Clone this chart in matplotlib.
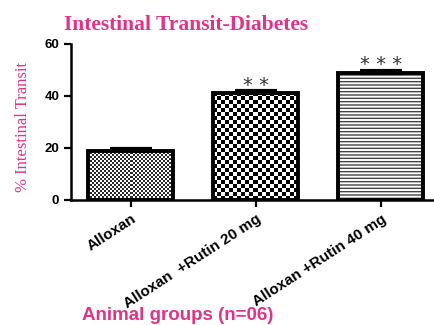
import numpy as np
import matplotlib.pyplot as plt
from matplotlib.colors import ListedColormap
from matplotlib.transforms import ScaledTranslation

# Intestinal transit (%) in alloxan diabetic animals, mean and SEM
groups = ['Alloxan', 'Alloxan  +Rutin 20 mg', 'Alloxan +Rutin 40 mg']
transit = [19.0, 41.2, 48.9]
sem = [0.7, 0.7, 0.8]
signif = ['', '* *', '* * *']
yticks = [0, 20, 40, 60]

pink = '#E2338A'
plt.rcParams['hatch.linewidth'] = 1.0

fig = plt.figure(figsize=(4.35, 3.25), dpi=100)
ax = fig.add_axes([71 / 435, 1 - 200 / 325, 362 / 435, 156 / 325])

x = np.arange(len(groups))
width = 0.68
bars = ax.bar(x, transit, width=width, facecolor='none', edgecolor='black',
              linewidth=2.8, zorder=3)
ax.set_xlim(-0.48, 2.416)
ax.set_ylim(0, 60)


def checker_fill(bar, cell_px, dark):
    # checkerboard texture clipped to the bar outline
    x0, y0 = bar.get_x(), bar.get_y()
    w, h = bar.get_width(), bar.get_height()
    (px0, py0), (px1, py1) = ax.transData.transform([(x0, y0), (x0 + w, y0 + h)])
    nx = max(1, int(round((px1 - px0) / cell_px)))
    ny = max(1, int(round((py1 - py0) / cell_px)))
    grid = np.add.outer(np.arange(ny), np.arange(nx)) % 2
    im = ax.imshow(grid, cmap=ListedColormap([dark, 'white']),
                   extent=(x0, x0 + w, y0, y0 + h), origin='lower',
                   interpolation='nearest', aspect='auto', zorder=2)
    im.set_clip_path(bar)


checker_fill(bars[0], 2.0, '#2a2a2a')
checker_fill(bars[1], 4.0, 'black')
# horizontal stripes for the 40 mg group
ax.bar(x[2], transit[2], width=width, facecolor='white', edgecolor='#444444',
       linewidth=0, hatch='-----', zorder=2)

ax.set_xlim(-0.48, 2.416)
ax.set_ylim(0, 60)

# upper SEM only
ax.errorbar(x, transit, yerr=[np.zeros(len(sem)), sem], fmt='none',
            ecolor='black', elinewidth=2, capsize=15, capthick=3, zorder=4)

for xi, v, e, s in zip(x, transit, sem, signif):
    if s:
        ax.annotate(s, (xi, v + e), xytext=(0, -2.5), textcoords='offset points',
                    ha='center', va='bottom', fontsize=14, color='#333333')

for side in ['top', 'right']:
    ax.spines[side].set_visible(False)
for side in ['left', 'bottom']:
    ax.spines[side].set_linewidth(1.8)

ax.set_yticks(yticks)
ax.set_yticklabels([str(t) for t in yticks], family='Liberation Sans',
                   fontweight='bold', fontsize=9.5)
ax.set_xticks(x)
ax.set_xticklabels(groups, rotation=33, ha='right', va='top',
                   rotation_mode='anchor', family='Liberation Sans',
                   fontweight='bold', fontsize=11)
shift = ScaledTranslation(7 / 72, 0, fig.dpi_scale_trans)
for lbl in ax.get_xticklabels():
    lbl.set_transform(lbl.get_transform() + shift)
ax.tick_params(axis='both', direction='out', length=5, width=1.6)

fig.text(186 / 435, 1 - 30 / 325, 'Intestinal Transit-Diabetes', ha='center',
         va='baseline', family='Liberation Serif', fontweight='bold',
         fontsize=15.5, color=pink)
fig.text(23 / 435, 1 - 127 / 325, '% Intestinal Transit', ha='center',
         va='center', rotation=90, family='Liberation Serif', fontsize=12,
         color=pink)
fig.text(82 / 435, 1 - 320 / 325, 'Animal groups (n=06)', ha='left',
         va='baseline', family='Liberation Sans', fontweight='bold',
         fontsize=13.5, color=pink)

fig.savefig('out.png', dpi=100)
